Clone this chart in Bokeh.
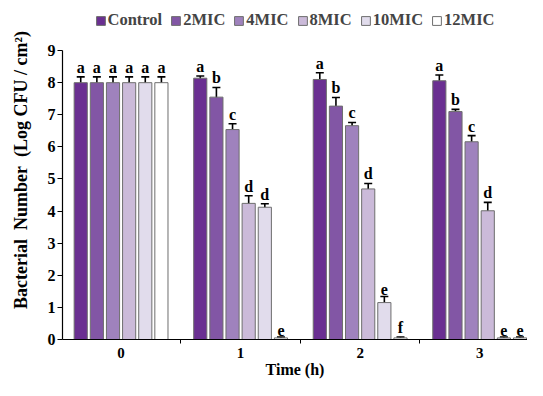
import numpy as np
from bokeh.plotting import figure
from bokeh.models import ColumnDataSource, Whisker, Legend, LegendItem, FixedTicker, Range1d
from bokeh.core.properties import value
from bokeh.embed import file_html
from bokeh.resources import INLINE

# ---- data ----
times = ["0", "1", "2", "3"]
series = ["Control", "2MIC", "4MIC", "8MIC", "10MIC", "12MIC"]
colors = ["#6a2f91", "#8256a5", "#9f82bd", "#cbbad9", "#e1dcec", "#ffffff"]

means = {
    "Control": [8.00, 8.14, 8.10, 8.06],
    "2MIC":    [8.00, 7.55, 7.27, 7.10],
    "4MIC":    [8.00, 6.54, 6.66, 6.16],
    "8MIC":    [8.00, 4.24, 4.69, 4.01],
    "10MIC":   [8.00, 4.12, 1.15, 0.05],
    "12MIC":   [8.00, 0.05, 0.05, 0.05],
}
errs = {
    "Control": [0.18, 0.07, 0.21, 0.18],
    "2MIC":    [0.18, 0.30, 0.27, 0.07],
    "4MIC":    [0.18, 0.18, 0.10, 0.19],
    "8MIC":    [0.18, 0.24, 0.17, 0.26],
    "10MIC":   [0.18, 0.11, 0.19, 0.03],
    "12MIC":   [0.18, 0.03, 0.03, 0.03],
}
letters = {
    "Control": ["a", "a", "a", "a"],
    "2MIC":    ["a", "b", "b", "b"],
    "4MIC":    ["a", "c", "c", "c"],
    "8MIC":    ["a", "d", "d", "d"],
    "10MIC":   ["a", "d", "e", "e"],
    "12MIC":   ["a", "e", "f", "e"],
}
y_ticks = list(range(0, 10))

FONT = "Liberation Serif"

p = figure(width=527, height=380, output_backend="svg", toolbar_location=None,
           x_range=Range1d(-0.49, 3.40), y_range=Range1d(0, 10.56),
           min_border_left=62, min_border_right=0, min_border_top=0, min_border_bottom=0)
p.outline_line_color = None
p.xgrid.grid_line_color = None
p.ygrid.grid_line_color = None
p.background_fill_color = "white"

pitch = 0.135
bw = 0.11
gx = np.arange(len(times))
items = []
for i, s in enumerate(series):
    off = (i - (len(series) - 1) / 2) * pitch
    m = np.array(means[s])
    e = np.array(errs[s])
    src = ColumnDataSource(dict(x=gx + off, top=m, lo=m - e, hi=m + e, lab=letters[s]))
    r = p.vbar(x="x", top="top", bottom=0, width=bw, source=src,
               fill_color=colors[i], line_color="#6e6e6e", line_width=1)
    w = Whisker(base="x", lower="lo", upper="hi", source=src,
                line_color="black", line_width=1.6)
    w.upper_head.size = 8
    w.lower_head.size = 8
    w.upper_head.line_width = 1.6
    w.lower_head.line_width = 1.6
    p.add_layout(w)
    p.text(x="x", y="hi", text="lab", source=src, text_align="center",
           text_baseline="bottom", y_offset=-1,
           text_font=value(FONT), text_font_style="bold", text_font_size="16px",
           text_color="black")
    items.append(LegendItem(label=s, renderers=[r]))

legend = Legend(items=items, orientation="horizontal", location="top_center",
                label_text_font=FONT, label_text_font_style="bold",
                label_text_font_size="16.5px", glyph_width=11, glyph_height=11,
                label_standoff=2, spacing=8, padding=0, margin=10,
                border_line_color=None, background_fill_alpha=0)
p.add_layout(legend, "center")

# axes
p.xaxis.ticker = FixedTicker(ticks=[0, 1, 2, 3], minor_ticks=[0.5, 1.5, 2.5])
p.xaxis.major_label_overrides = {i: t for i, t in enumerate(times)}
p.xaxis.major_tick_line_color = None
p.xaxis.major_tick_out = 0
p.xaxis.major_tick_in = 0
p.xaxis.minor_tick_out = 4
p.xaxis.minor_tick_in = 0
p.xaxis.minor_tick_line_color = "black"
p.xaxis.major_label_standoff = 4
p.xaxis.axis_label = "Time (h)"
p.xaxis.axis_label_standoff = 0

p.yaxis.ticker = FixedTicker(ticks=y_ticks)
p.yaxis.bounds = (0, 9)
p.yaxis.minor_tick_line_color = None
p.yaxis.major_tick_out = 5
p.yaxis.major_tick_in = 0
p.yaxis.major_label_standoff = 2
p.yaxis.axis_label = "Bacterial\u00a0 Number\u00a0 (Log CFU / cm\u00b2)"
p.yaxis.axis_label_standoff = 14

for ax in (p.xaxis[0], p.yaxis[0]):
    ax.axis_line_color = "black"
    ax.axis_line_width = 1.2
    ax.major_tick_line_width = 1.2
    ax.major_label_text_font = FONT
    ax.major_label_text_font_style = "bold"
    ax.major_label_text_font_size = "15px"
    ax.major_label_text_color = "black"
    ax.axis_label_text_font = FONT
    ax.axis_label_text_font_style = "bold"
    ax.axis_label_text_font_size = "16px"
    ax.axis_label_text_color = "black"
p.yaxis.major_label_text_font_size = "16px"
p.yaxis.axis_label_text_font_size = "18px"

open("out.html", "w").write(file_html(p, INLINE))
